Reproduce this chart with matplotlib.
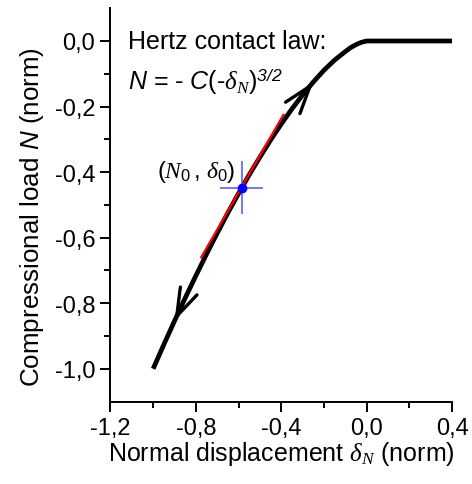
import matplotlib
matplotlib.use("Agg")
import matplotlib.pyplot as plt
from matplotlib.ticker import FixedLocator, FixedFormatter

plt.rcParams['font.family'] = ['Liberation Sans', 'DejaVu Sans']
plt.rcParams['mathtext.fontset'] = 'custom'
plt.rcParams['mathtext.rm'] = 'Liberation Sans'
plt.rcParams['mathtext.it'] = 'Liberation Serif:italic'
plt.rcParams['mathtext.sf'] = 'Liberation Sans:italic'

# Hertz loading curve: normal displacement vs compressional load (normalised)
delta = [-1.00, -0.95, -0.90, -0.85, -0.80, -0.75, -0.70, -0.65, -0.60, -0.55,
         -0.50, -0.45, -0.40, -0.35, -0.30, -0.25, -0.20, -0.15, -0.10, -0.075,
         -0.05, -0.025, 0.00, 0.40]
load = [-1.000, -0.926, -0.854, -0.784, -0.716, -0.650, -0.586, -0.524, -0.465, -0.408,
        -0.354, -0.302, -0.253, -0.207, -0.164, -0.125, -0.089, -0.058, -0.032, -0.020,
        -0.011, -0.004, 0.000, 0.000]

# Linearisation around the working point
tangent_delta = [-0.775, -0.39]
tangent_load = [-0.66, -0.225]

# Working point (N0, delta0) and its cross-hair half widths
point_delta = [-0.585]
point_load = [-0.447]
cross_dx = 0.10
cross_dy = 0.08

# Direction arrows: (tail index, head index) along the curve
arrows = [(13, 15), (4, 2)]

xticks = [-1.2, -0.8, -0.4, 0.0, 0.4]
xtick_labels = ['-1,2', '-0,8', '-0,4', '0,0', '0,4']
xminor = [-1.0, -0.6, -0.2, 0.2]
yticks = [0.0, -0.2, -0.4, -0.6, -0.8, -1.0]
ytick_labels = ['0,0', '-0,2', '-0,4', '-0,6', '-0,8', '-1,0']
yminor = [-0.1, -0.3, -0.5, -0.7, -0.9]

fig = plt.figure(figsize=(4.72, 4.85), dpi=100)
ax = fig.add_axes([0.234, 0.170, 0.724, 0.811])

ax.plot(delta, load, color='black', lw=3.4, solid_capstyle='butt',
        solid_joinstyle='round', zorder=2)
ax.plot(tangent_delta, tangent_load, color='#ff0000', lw=1.6, zorder=3)
ax.errorbar(point_delta, point_load, xerr=cross_dx, yerr=cross_dy, fmt='o',
            color='#0000ff', ecolor='#5050ff', elinewidth=1.1, capsize=0,
            markersize=6, zorder=4)

for tail, head in arrows:
    ax.annotate('', xy=(delta[head], load[head]), xytext=(delta[tail], load[tail]),
                arrowprops=dict(arrowstyle='->,head_length=1.0,head_width=0.33',
                                color='black', lw=2.4, shrinkA=0, shrinkB=0,
                                mutation_scale=20),
                zorder=5)

ax.set_xlim(-1.2, 0.4)
ax.set_ylim(-1.1, 0.1)

ax.xaxis.set_major_locator(FixedLocator(xticks))
ax.xaxis.set_major_formatter(FixedFormatter(xtick_labels))
ax.xaxis.set_minor_locator(FixedLocator(xminor))
ax.yaxis.set_major_locator(FixedLocator(yticks))
ax.yaxis.set_major_formatter(FixedFormatter(ytick_labels))
ax.yaxis.set_minor_locator(FixedLocator(yminor))

for side in ('top', 'right'):
    ax.spines[side].set_visible(False)
for side in ('left', 'bottom'):
    ax.spines[side].set_linewidth(1.4)

ax.tick_params(which='major', direction='out', length=7, width=1.4,
               labelsize=17, pad=4)
ax.tick_params(which='minor', direction='out', length=4, width=1.4)

ax.set_xlabel(r'Normal displacement $\delta_{N}$ (norm)', fontsize=18, labelpad=0)
ax.set_ylabel(r'Compressional load $\mathsf{N}$ (norm)', fontsize=18.7)
ax.yaxis.set_label_coords(-0.19, 0.472)

ax.text(0.052, 0.917, 'Hertz contact law:', transform=ax.transAxes,
        fontsize=18, ha='left', va='center')
ax.text(0.052, 0.815, r'$\mathsf{N}$ = - $\mathsf{C}$(-$\delta_{N}$)$^{\mathsf{3/2}}$',
        transform=ax.transAxes, fontsize=18, ha='left', va='center')
ax.text(0.135, 0.587, r'$\mathit{(}N_{0}\,,\,\delta_{0}\mathit{)}$', transform=ax.transAxes,
        fontsize=17, ha='left', va='center')

fig.savefig('out.png', dpi=100)
